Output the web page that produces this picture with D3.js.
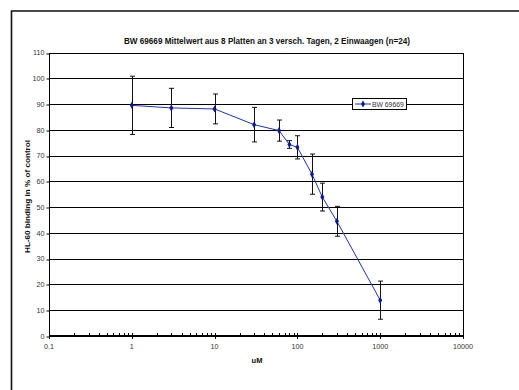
<!DOCTYPE html>
<html>
<head>
<meta charset="utf-8">
<script src="https://cdn.jsdelivr.net/npm/d3@7"></script>
<style>
  body { margin: 0; background: #fff; }
  svg { display: block; font-family: "Liberation Sans", Arial, sans-serif; }
</style>
</head>
<body>
<svg id="chart" width="519" height="390"></svg>
<script>
const TITLE = 'BW 69669 Mittelwert aus 8 Platten an 3 versch. Tagen, 2 Einwaagen (n=24)';
const SERIES_NAME = 'BW 69669';
const concentrations = [1, 3, 10, 30, 60, 80, 100, 150, 200, 300, 1000];
const binding = [89.5, 88.5, 88.1, 82.0, 79.7, 74.3, 73.2, 62.8, 53.9, 44.5, 13.9];
const errors = [11.3, 7.6, 5.8, 6.7, 4.1, 1.5, 4.5, 7.8, 5.4, 5.8, 7.4];
const xTicks = [0.1, 1, 10, 100, 1000, 10000];
const yTicks = [0, 10, 20, 30, 40, 50, 60, 70, 80, 90, 100, 110];

const svg = d3.select('#chart');
const plot = { left: 49, right: 463, top: 52.5, bottom: 336 };

// outer chart frame (runs off the right and bottom edges)
svg.append('path')
  .attr('d', 'M11.5,390 V11 H519')
  .attr('fill', 'none')
  .attr('stroke', '#111')
  .attr('stroke-width', 1.6);

const x = d3.scaleLog().domain([0.1, 10000]).range([plot.left, plot.right]);
const y = d3.scaleLinear().domain([0, 110]).range([plot.bottom, plot.top]);

// gridlines
svg.append('g')
  .selectAll('line')
  .data(yTicks.slice(1))
  .join('line')
    .attr('x1', plot.left)
    .attr('x2', plot.right)
    .attr('y1', d => Math.round(y(d)) + 0.5)
    .attr('y2', d => Math.round(y(d)) + 0.5)
    .attr('stroke', '#000')
    .attr('stroke-width', 1);

// plot frame
svg.append('rect')
  .attr('x', plot.left + 0.5)
  .attr('y', Math.round(plot.top) + 0.5)
  .attr('width', plot.right - plot.left)
  .attr('height', plot.bottom - Math.round(plot.top))
  .attr('fill', 'none')
  .attr('stroke', '#000')
  .attr('stroke-width', 1);

// y axis
const yAxis = svg.append('g')
  .attr('transform', `translate(${plot.left + 0.5},0)`)
  .call(d3.axisLeft(y).tickValues(yTicks).tickSize(3).tickPadding(2));
yAxis.select('.domain').remove();
yAxis.selectAll('line').attr('stroke', '#000')
  .attr('transform', d => `translate(0,${Math.round(y(d)) + 0.5 - y(d)})`);
yAxis.selectAll('text').attr('font-size', 7.2).attr('fill', '#333')
  .attr('font-family', '"Liberation Sans", Arial, sans-serif');

// x axis
const minorTicks = [];
for (let e = -1; e < 4; e++) {
  for (let m = 2; m <= 9; m++) minorTicks.push(m * Math.pow(10, e));
}
const xAxisG = svg.append('g');
xAxisG.append('line')
  .attr('x1', plot.left).attr('x2', plot.right + 1)
  .attr('y1', plot.bottom).attr('y2', plot.bottom)
  .attr('stroke', '#000').attr('stroke-width', 2);
xAxisG.selectAll('.minor')
  .data(minorTicks)
  .join('line')
    .attr('class', 'minor')
    .attr('x1', d => Math.round(x(d)) + 0.5)
    .attr('x2', d => Math.round(x(d)) + 0.5)
    .attr('y1', plot.bottom - 3)
    .attr('y2', plot.bottom)
    .attr('stroke', '#000');
xAxisG.selectAll('.major')
  .data(xTicks)
  .join('line')
    .attr('class', 'major')
    .attr('x1', d => Math.round(x(d)) + 0.5)
    .attr('x2', d => Math.round(x(d)) + 0.5)
    .attr('y1', plot.bottom - 3)
    .attr('y2', plot.bottom + 3)
    .attr('stroke', '#000');
xAxisG.selectAll('text')
  .data(xTicks)
  .join('text')
    .attr('x', d => x(d))
    .attr('y', plot.bottom + 13)
    .attr('text-anchor', 'middle')
    .attr('font-size', 7.2)
    .attr('fill', '#333')
    .text(d => d3.format('~g')(d));

// title and axis labels
svg.append('text')
  .attr('x', 267).attr('y', 44)
  .attr('text-anchor', 'middle')
  .attr('font-size', 8.3).attr('font-weight', 'bold')
  .attr('fill', '#111')
  .attr('textLength', 286).attr('lengthAdjust', 'spacingAndGlyphs')
  .text(TITLE);

svg.append('text')
  .attr('x', 257).attr('y', 363)
  .attr('text-anchor', 'middle')
  .attr('font-size', 7.5).attr('font-weight', 'bold')
  .attr('fill', '#111')
  .text('uM');

svg.append('text')
  .attr('transform', `translate(29.5,196.5) rotate(-90)`)
  .attr('text-anchor', 'middle')
  .attr('font-size', 7.6).attr('font-weight', 'bold')
  .attr('fill', '#111')
  .attr('textLength', 113).attr('lengthAdjust', 'spacingAndGlyphs')
  .text('HL-60 binding in % of control');

// data
const points = concentrations.map((c, i) => ({ c, v: binding[i], e: errors[i] }));

// error bars
const eb = svg.append('g').attr('stroke', '#111').attr('stroke-width', 1);
points.forEach(p => {
  const px = Math.round(x(p.c)) + 0.5;
  eb.append('line').attr('x1', px).attr('x2', px)
    .attr('y1', y(p.v + p.e)).attr('y2', y(p.v - p.e));
  [p.v + p.e, p.v - p.e].forEach(v => {
    eb.append('line').attr('x1', px - 2.5).attr('x2', px + 2.5)
      .attr('y1', y(v)).attr('y2', y(v));
  });
});

// series line
svg.append('path')
  .datum(points)
  .attr('d', d3.line().x(d => x(d.c)).y(d => y(d.v)))
  .attr('fill', 'none')
  .attr('stroke', '#1f30c4')
  .attr('stroke-width', 1);

const diamond = d3.symbol().type(d3.symbolDiamond).size(14);
svg.append('g')
  .selectAll('path')
  .data(points)
  .join('path')
    .attr('transform', d => `translate(${x(d.c)},${y(d.v)})`)
    .attr('d', diamond)
    .attr('fill', '#0a1a99');

// legend
const lg = svg.append('g').attr('transform', 'translate(352,98)');
lg.append('rect')
  .attr('x', 0.5).attr('y', 0.5).attr('width', 54).attr('height', 11)
  .attr('fill', '#fff').attr('stroke', '#000');
lg.append('line')
  .attr('x1', 3).attr('x2', 19).attr('y1', 6).attr('y2', 6)
  .attr('stroke', '#1f30c4').attr('stroke-width', 1);
lg.append('path')
  .attr('transform', 'translate(11,6)')
  .attr('d', diamond)
  .attr('fill', '#0a1a99');
lg.append('text')
  .attr('x', 20).attr('y', 8.5)
  .attr('font-size', 6.8)
  .attr('fill', '#333')
  .text(SERIES_NAME);
</script>
</body>
</html>
